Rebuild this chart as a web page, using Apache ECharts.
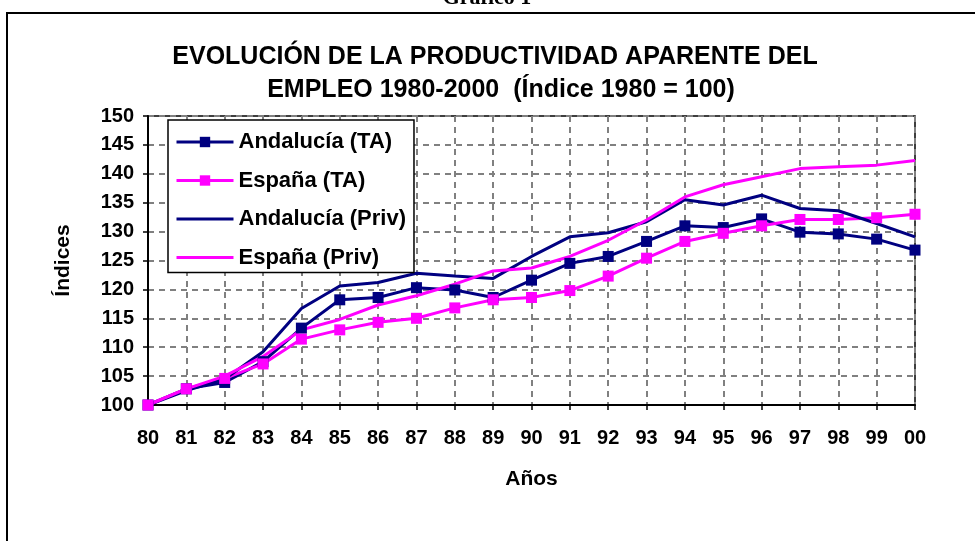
<!DOCTYPE html>
<html>
<head>
<meta charset="utf-8">
<script src="https://cdn.jsdelivr.net/npm/echarts@6/dist/echarts.min.js"></script>
<style>
html,body{margin:0;padding:0;background:#fff;}
#c{width:975px;height:541px;}
</style>
</head>
<body>
<div id="c"></div>
<script>
const years = ['80','81','82','83','84','85','86','87','88','89','90','91','92','93','94','95','96','97','98','99','00'];
const andaluciaTA = [100,102.8,103.9,107.5,113.3,118.2,118.6,120.3,119.9,118.6,121.6,124.5,125.7,128.3,131.0,130.7,132.2,129.9,129.6,128.7,126.8];
const espanaTA = [100,102.8,104.6,107.1,111.4,113.0,114.3,115.0,116.8,118.2,118.6,119.8,122.3,125.4,128.3,129.7,131.0,132.1,132.1,132.4,133.0];
const andaluciaPriv = [100,102.5,104.5,109.2,116.7,120.6,121.2,122.8,122.3,121.9,125.7,129.1,129.8,131.7,135.5,134.6,136.3,134.0,133.6,131.4,129.1];
const espanaPriv = [100,102.8,105.0,108.4,113.0,114.8,117.3,118.9,120.9,123.2,123.7,125.7,128.5,132.0,136.0,138.1,139.5,140.9,141.2,141.5,142.3];
const yTicks = {min:100, max:150, interval:5};
const seriesNames = ['Andalucía (TA)','España (TA)','Andalucía (Priv)','España (Priv)'];
const titleLines = ['EVOLUCIÓN DE LA PRODUCTIVIDAD APARENTE DEL','EMPLEO 1980-2000  (Índice 1980 = 100)'];

const NAVY = '#000080', MAG = '#FF00FF';
const FONT = 'Arial, "Liberation Sans", sans-serif';
const chart = echarts.init(document.getElementById('c'), null, {renderer:'canvas'});
const grid = {left:148, right:60, top:116, bottom:136};
const gridDash = {color:'#808080', width:2, type:[6,5]};

function mk(name, data, color, withSymbol){
  return {
    name, type:'line', data,
    symbol: withSymbol ? 'rect' : 'none',
    symbolSize: 11,
    showSymbol: withSymbol,
    lineStyle:{color, width:3},
    itemStyle:{color},
    animation:false
  };
}

chart.setOption({
  backgroundColor:'#fff',
  animation:false,
  graphic:[
    {type:'rect', shape:{x:7, y:13, width:990, height:560}, style:{fill:'none', stroke:'#000', lineWidth:2}, silent:true},
    {type:'text', style:{x:487, y:9, text:'Gráfico 1', font:'bold 22px "Liberation Serif", "Times New Roman", serif', fill:'#000', textAlign:'center', textVerticalAlign:'bottom'}},
    {type:'text', style:{x:495, y:57, text:titleLines[0], font:'bold 25px ' + FONT, fill:'#000', textAlign:'center', textVerticalAlign:'middle'}},
    {type:'text', style:{x:501, y:90, text:titleLines[1], font:'bold 25px ' + FONT, fill:'#000', textAlign:'center', textVerticalAlign:'middle'}}
  ],
  legend:{
    orient:'vertical', left:168, top:120,
    padding:[11,8,4,7],
    itemGap:16.5, itemWidth:57, itemHeight:13,
    backgroundColor:'#fff', borderColor:'#000', borderWidth:1.5,
    lineStyle:{width:3},
    textStyle:{fontFamily:FONT, fontWeight:'bold', fontSize:22, color:'#000'},
    data:[
      {name:seriesNames[0]},
      {name:seriesNames[1]},
      {name:seriesNames[2], itemStyle:{opacity:0}},
      {name:seriesNames[3], itemStyle:{opacity:0}}
    ]
  },
  grid:Object.assign({show:true, borderColor:'#000', borderWidth:1.5, backgroundColor:'transparent'}, grid),
  xAxis:{
    type:'category', data:years, boundaryGap:false,
    name:'Años', nameLocation:'middle', nameGap:64,
    nameTextStyle:{fontFamily:FONT, fontWeight:'bold', fontSize:21, color:'#000'},
    axisLine:{lineStyle:{color:'#000', width:2}},
    axisTick:{show:true, length:5, lineStyle:{color:'#000', width:1.5}},
    axisLabel:{fontFamily:FONT, fontWeight:'bold', fontSize:20, color:'#000', margin:23},
    splitLine:{show:true, lineStyle:gridDash}
  },
  yAxis:{
    type:'value', min:yTicks.min, max:yTicks.max, interval:yTicks.interval,
    name:'Índices', nameLocation:'middle', nameGap:74, nameRotate:90,
    nameTextStyle:{fontFamily:FONT, fontWeight:'bold', fontSize:21, color:'#000'},
    axisLine:{show:true, lineStyle:{color:'#000', width:2}},
    axisTick:{show:true, length:5, lineStyle:{color:'#000', width:1.5}},
    axisLabel:{fontFamily:FONT, fontWeight:'bold', fontSize:20, color:'#000', margin:14},
    splitLine:{show:true, lineStyle:gridDash}
  },
  series:[
    mk(seriesNames[0], andaluciaTA, NAVY, true),
    mk(seriesNames[1], espanaTA, MAG, true),
    mk(seriesNames[2], andaluciaPriv, NAVY, false),
    mk(seriesNames[3], espanaPriv, MAG, false)
  ]
});
</script>
</body>
</html>
